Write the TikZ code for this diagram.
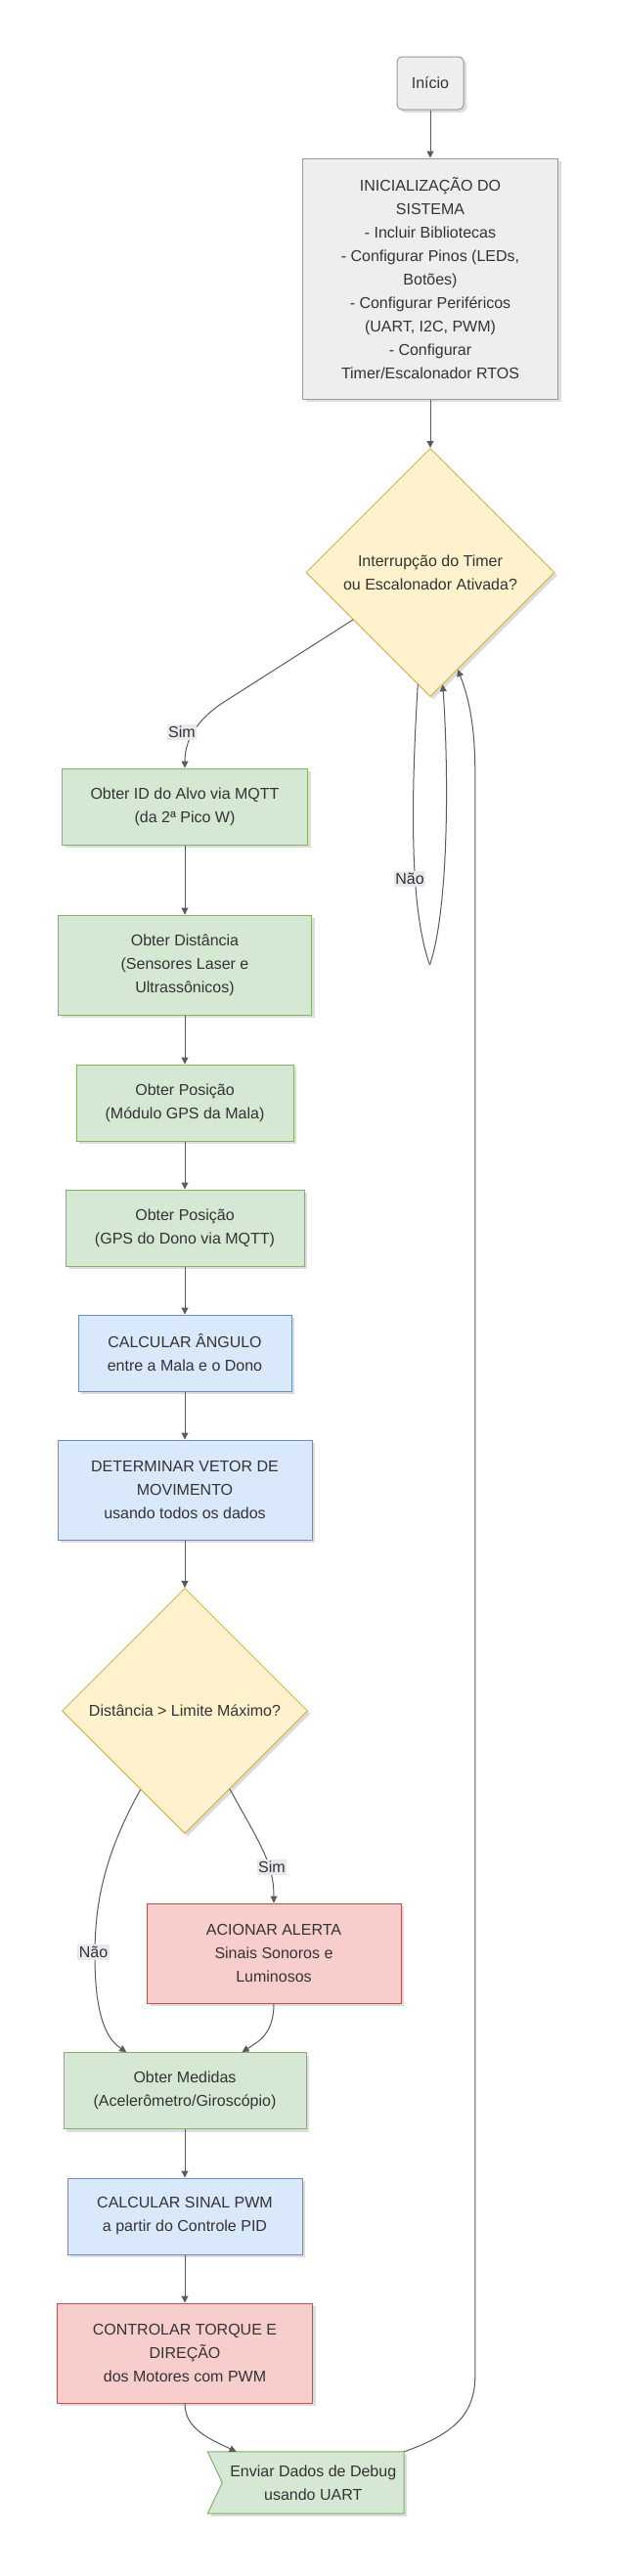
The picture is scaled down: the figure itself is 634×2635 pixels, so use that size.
\documentclass[tikz,border=0pt]{standalone}
\usepackage{fontspec}
\setmainfont{Liberation Sans}
\usetikzlibrary{shapes.geometric,arrows.meta,shadows,calc,backgrounds}
\definecolor{txt}{HTML}{333333}
\definecolor{edgec}{HTML}{5A5A5A}
\definecolor{grayfill}{HTML}{EEEEEE}
\definecolor{grayline}{HTML}{999999}
\definecolor{yelfill}{HTML}{FFF2CC}
\definecolor{yelline}{HTML}{D6B656}
\definecolor{grnfill}{HTML}{D5E8D4}
\definecolor{grnline}{HTML}{82B366}
\definecolor{blufill}{HTML}{DAE8FC}
\definecolor{bluline}{HTML}{6C8EBF}
\definecolor{redfill}{HTML}{F8CECC}
\definecolor{redline}{HTML}{B85450}
\definecolor{lblfill}{HTML}{E8E8EE}
\begin{document}
\begin{tikzpicture}[x=1pt,y=-1pt,
  every node/.style={font=\fontsize{16}{24}\selectfont, text=txt, align=center, inner sep=0pt},
  shad/.style={drop shadow={shadow xshift=3pt,shadow yshift=-3pt,opacity=0.22,fill=black!60}},
  flowbox/.style={rectangle, draw, line width=1pt, shad},
  graybox/.style={flowbox, fill=grayfill, draw=grayline},
  grnbox/.style={flowbox, fill=grnfill, draw=grnline},
  blubox/.style={flowbox, fill=blufill, draw=bluline},
  redbox/.style={flowbox, fill=redfill, draw=redline},
  decide/.style={diamond, aspect=1, draw=yelline, fill=yelfill, line width=1pt, shad},
  conn/.style={draw=edgec, line width=1pt, -{Triangle[length=7pt,width=7pt]}},
  plainconn/.style={draw=edgec, line width=1pt},
  lbl/.style={fill=lblfill, inner xsep=1.5pt, inner ysep=2pt},
]
\begin{scope}[on background layer]
\fill[white] (0,0) rectangle (634,2635);
\end{scope}
\useasboundingbox (0,0) rectangle (634,2635);

% nodes
\node[graybox, rounded corners=5pt, minimum width=68, minimum height=54] (inicio) at (440,85) {Início};
\node[graybox, minimum width=261, minimum height=246] (init) at (440,285) {INICIALIZAÇÃO DO\\SISTEMA\\- Incluir Bibliotecas\\- Configurar Pinos (LEDs,\\Botões)\\- Configurar Periféricos\\(UART, I2C, PWM)\\- Configurar\\Timer/Escalonador RTOS};
\node[decide, minimum width=254, minimum height=254] (d1) at (440,585.5) {Interrupção do Timer\\ou Escalonador Ativada?};
\node[grnbox, minimum width=251, minimum height=78] (obtid) at (189,825) {Obter ID do Alvo via MQTT\\(da 2ª Pico W)};
\node[grnbox, minimum width=259, minimum height=102] (dist) at (189,987) {Obter Distância\\(Sensores Laser e\\Ultrassônicos)};
\node[grnbox, minimum width=222, minimum height=78] (mala) at (189,1128) {Obter Posição\\(Módulo GPS da Mala)};
\node[grnbox, minimum width=244, minimum height=78] (dono) at (189,1256) {Obter Posição\\(GPS do Dono via MQTT)};
\node[blubox, minimum width=218, minimum height=78] (calc) at (189,1384) {CALCULAR ÂNGULO\\entre a Mala e o Dono};
\node[blubox, minimum width=260, minimum height=102] (det) at (189,1524) {DETERMINAR VETOR DE\\MOVIMENTO\\usando todos os dados};
\node[decide, minimum width=251, minimum height=251] (d2) at (189,1750) {Distância > Limite Máximo?};
\node[redbox, minimum width=260, minimum height=102] (alerta) at (280,1998) {ACIONAR ALERTA\\Sinais Sonoros e\\Luminosos};
\node[grnbox, minimum width=248, minimum height=78] (med) at (189,2138.5) {Obter Medidas\\(Acelerômetro/Giroscópio)};
\node[blubox, minimum width=240, minimum height=78] (pwm) at (189,2267) {CALCULAR SINAL PWM\\a partir do Controle PID};
\node[redbox, minimum width=261, minimum height=102] (ctrl) at (189,2407) {CONTROLAR TORQUE E\\DIREÇÃO\\dos Motores com PWM};
\node[minimum width=185.5, minimum height=63] (env) at (320.25,2539.5) {Enviar Dados de Debug\\usando UART};
\begin{scope}[on background layer]
\path[fill=grnfill, draw=grnline, line width=1pt, shad]
  ($(env.north west)+(-15,0)$) -- (env.north east) -- (env.south east)
  -- ($(env.south west)+(-15,0)$) -- (env.west) -- cycle;
\end{scope}

% connectors
\draw[conn] (inicio.south) -- (inicio.south |- init.north);
\draw[conn] (init.south) -- (d1.north);

\coordinate (sim1) at ($(d1.west)!0.38!(d1.south)$);
\draw[conn] (sim1) -- (226,720) .. controls (200,738) and (189,758) .. (obtid.north);
\node[lbl] (lsim1) at (186,749) {Sim};

\coordinate (nl) at (439.5,987);
\draw[plainconn] ($(d1.south)!0.1!(d1.west)$) .. controls (420,820) and (419,930) .. (nl);
\draw[conn] (nl) .. controls (459,930) and (459,790) .. ($(d1.south)!0.1!(d1.east)$);
\node[lbl] (lnao1) at (419,899) {Não};

\draw[conn] (obtid.south) -- (dist.north);
\draw[conn] (dist.south) -- (mala.north);
\draw[conn] (mala.south) -- (dono.north);
\draw[conn] (dono.south) -- (calc.north);
\draw[conn] (calc.south) -- (det.north);
\draw[conn] (det.south) -- (d2.north);

\draw[conn] ($(d2.west)!0.64!(d2.south)$) .. controls (105,1900) and (97,1950) .. (97,2000)
  .. controls (97,2060) and (108,2085) .. ($(med.north west)!0.26!(med.north east)$);
\node[lbl] (lnao2) at (95.5,1997) {Não};

\draw[conn] ($(d2.south)!0.365!(d2.east)$) .. controls (265,1885) and (280,1905) .. (alerta.north);
\node[lbl] (lsim2) at (278,1910) {Sim};

\draw[conn] (alerta.south) .. controls (280,2080) and (265,2088) .. ($(med.north west)!0.735!(med.north east)$);
\draw[conn] (med.south) -- (pwm.north);
\draw[conn] (pwm.south) -- (ctrl.north);
\draw[conn] (ctrl.south) .. controls (189,2485) and (215,2495) .. ($(env.north west)!0.077!(env.north east)$);

\draw[conn] (env.north east) .. controls (470,2488) and (485.8,2465) .. (485.8,2430)
  -- (485.8,790) .. controls (485.8,745) and (480,715) .. ($(d1.south)!0.22!(d1.east)$);
\end{tikzpicture}
\end{document}
